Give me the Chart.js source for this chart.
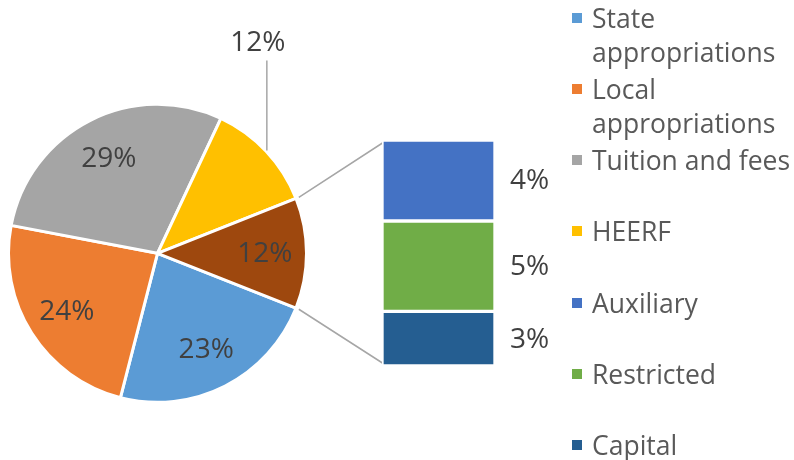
<!DOCTYPE html>
<html><head><meta charset="utf-8">
<script src="https://cdn.jsdelivr.net/npm/chart.js@4.4.0/dist/chart.umd.min.js"></script>
<style>
html,body{margin:0;padding:0;background:#fff;width:794px;height:460px;overflow:hidden;font-family:'Open Sans',sans-serif;}
#pie{position:absolute;left:0;top:0;}
#bar{position:absolute;left:382px;top:140px;}
.li{position:absolute;left:592px;width:205px;font-size:26.5px;line-height:34px;color:#595959;white-space:normal;}
.sw{position:absolute;left:572px;width:10px;height:10px;}
</style></head><body>
<canvas id="pie" width="794" height="460"></canvas>
<canvas id="bar" width="240" height="226"></canvas>
<div id="legend"></div>
<script>
const pieLabels = ['State appropriations', 'Local appropriations', 'Tuition and fees', 'HEERF', 'Other'];
const pieValues = [23, 24, 29, 12, 12];
const pieColors = ['#5B9BD5', '#ED7D31', '#A5A5A5', '#FFC000', '#9E480E'];
const barLabels = ['Auxiliary', 'Restricted', 'Capital'];
const barValues = [4.3, 4.8, 2.9];
const barColors = ['#4472C4', '#70AD47', '#255E91'];
const legendLabels = ['State appropriations', 'Local appropriations', 'Tuition and fees', 'HEERF', 'Auxiliary', 'Restricted', 'Capital'];
const legendColors = ['#5B9BD5', '#ED7D31', '#A5A5A5', '#FFC000', '#4472C4', '#70AD47', '#255E91'];

const FONT = "'Open Sans', sans-serif";
const LABEL_COLOR = '#404040';
const LINE_COLOR = '#A6A6A6';

// legend
const lg = document.getElementById('legend');
legendLabels.forEach((t, i) => {
  const c = 17.5 + i * 71.3;
  const sw = document.createElement('div');
  sw.className = 'sw'; sw.style.top = (c - 5) + 'px'; sw.style.background = legendColors[i];
  const li = document.createElement('div');
  li.className = 'li'; li.style.top = (c - 17) + 'px'; li.textContent = t;
  lg.appendChild(sw); lg.appendChild(li);
});

// bar of pie
const barTotal = barValues.reduce((a, b) => a + b, 0);
const barLabelPlugin = {
  id: 'barLabels',
  afterDatasetsDraw(chart) {
    const ctx = chart.ctx;
    ctx.save();
    ctx.font = '28px ' + FONT;
    ctx.fillStyle = LABEL_COLOR;
    ctx.textAlign = 'left';
    ctx.textBaseline = 'middle';
    chart.data.datasets.forEach((ds, i) => {
      const el = chart.getDatasetMeta(i).data[0];
      const p = el.getProps(['x', 'y', 'base', 'width'], true);
      ctx.fillText(Math.round(ds.data[0]) + '%', p.x + p.width / 2 + 15, (p.y + p.base) / 2 + 1);
    });
    ctx.restore();
  }
};
const barChart = new Chart(document.getElementById('bar'), {
  type: 'bar',
  data: {
    labels: [''],
    datasets: barLabels.map((l, i) => ({
      label: l, data: [barValues[i]], backgroundColor: barColors[i],
      borderColor: '#ffffff', borderWidth: 2, borderSkipped: false,
      barPercentage: 1, categoryPercentage: 1
    }))
  },
  options: {
    responsive: false, animation: false,
    layout: { padding: { left: 0, right: 127, top: 0, bottom: 0 } },
    plugins: { legend: { display: false }, tooltip: { enabled: false } },
    scales: {
      x: { display: false, stacked: true },
      y: { display: false, stacked: true, reverse: true, min: 0, max: barTotal }
    }
  },
  plugins: [barLabelPlugin]
});

const pieTotal = pieValues.reduce((a, b) => a + b, 0);
const otherIndex = pieValues.length - 1;
const rotation = 90 + (pieValues[otherIndex] / pieTotal * 360) / 2;
const outsideLabel = [false, false, false, true, false];

const piePlugin = {
  id: 'pieExtras',
  afterDatasetsDraw(chart) {
    const ctx = chart.ctx;
    const meta = chart.getDatasetMeta(0);
    ctx.save();
    ctx.font = '28px ' + FONT;
    ctx.fillStyle = LABEL_COLOR;
    ctx.textAlign = 'center';
    ctx.textBaseline = 'middle';
    ctx.strokeStyle = LINE_COLOR;
    ctx.lineWidth = 1.5;
    meta.data.forEach((arc, i) => {
      const p = arc.getProps(['x', 'y', 'startAngle', 'endAngle', 'outerRadius'], true);
      const mid = (p.startAngle + p.endAngle) / 2;
      const txt = Math.round(pieValues[i] / pieTotal * 100) + '%';
      if (outsideLabel[i]) {
        const px = p.x + (p.outerRadius + 1) * Math.cos(mid);
        const py = p.y + (p.outerRadius + 1) * Math.sin(mid);
        ctx.beginPath(); ctx.moveTo(px, py); ctx.lineTo(px, py - 90); ctx.stroke();
        ctx.fillText(txt, px - 9, py - 108);
      } else {
        const r = p.outerRadius * 0.72;
        ctx.fillText(txt, p.x + r * Math.cos(mid), p.y + r * Math.sin(mid) + 1);
      }
    });
    // connector lines to bar
    const o = meta.data[otherIndex].getProps(['x', 'y', 'startAngle', 'endAngle', 'outerRadius'], true);
    const off = { x: 382, y: 140 };
    const top = barChart.getDatasetMeta(0).data[0].getProps(['x', 'y', 'base', 'width'], true);
    const bot = barChart.getDatasetMeta(barLabels.length - 1).data[0].getProps(['x', 'y', 'base', 'width'], true);
    const bw = 2;
    const leftX = off.x + top.x - top.width / 2 + bw;
    const topY = off.y + Math.min(top.y, top.base) + bw;
    const botY = off.y + Math.max(bot.y, bot.base) - bw;
    const R = o.outerRadius + 3;
    ctx.beginPath();
    ctx.moveTo(o.x + R * Math.cos(o.startAngle), o.y + R * Math.sin(o.startAngle));
    ctx.lineTo(leftX, topY);
    ctx.moveTo(o.x + R * Math.cos(o.endAngle), o.y + R * Math.sin(o.endAngle));
    ctx.lineTo(leftX, botY);
    ctx.stroke();
    ctx.restore();
  }
};

new Chart(document.getElementById('pie'), {
  type: 'pie',
  data: {
    labels: pieLabels,
    datasets: [{
      data: pieValues, backgroundColor: pieColors,
      borderColor: '#ffffff', borderWidth: 3, hoverOffset: 0, radius: 149
    }]
  },
  options: {
    responsive: false, animation: false, rotation: rotation,
    layout: { padding: { left: 7.5, top: 103.3, right: 486.5, bottom: 56.7 } },
    plugins: { legend: { display: false }, tooltip: { enabled: false } }
  },
  plugins: [piePlugin]
});
</script>
</body></html>
